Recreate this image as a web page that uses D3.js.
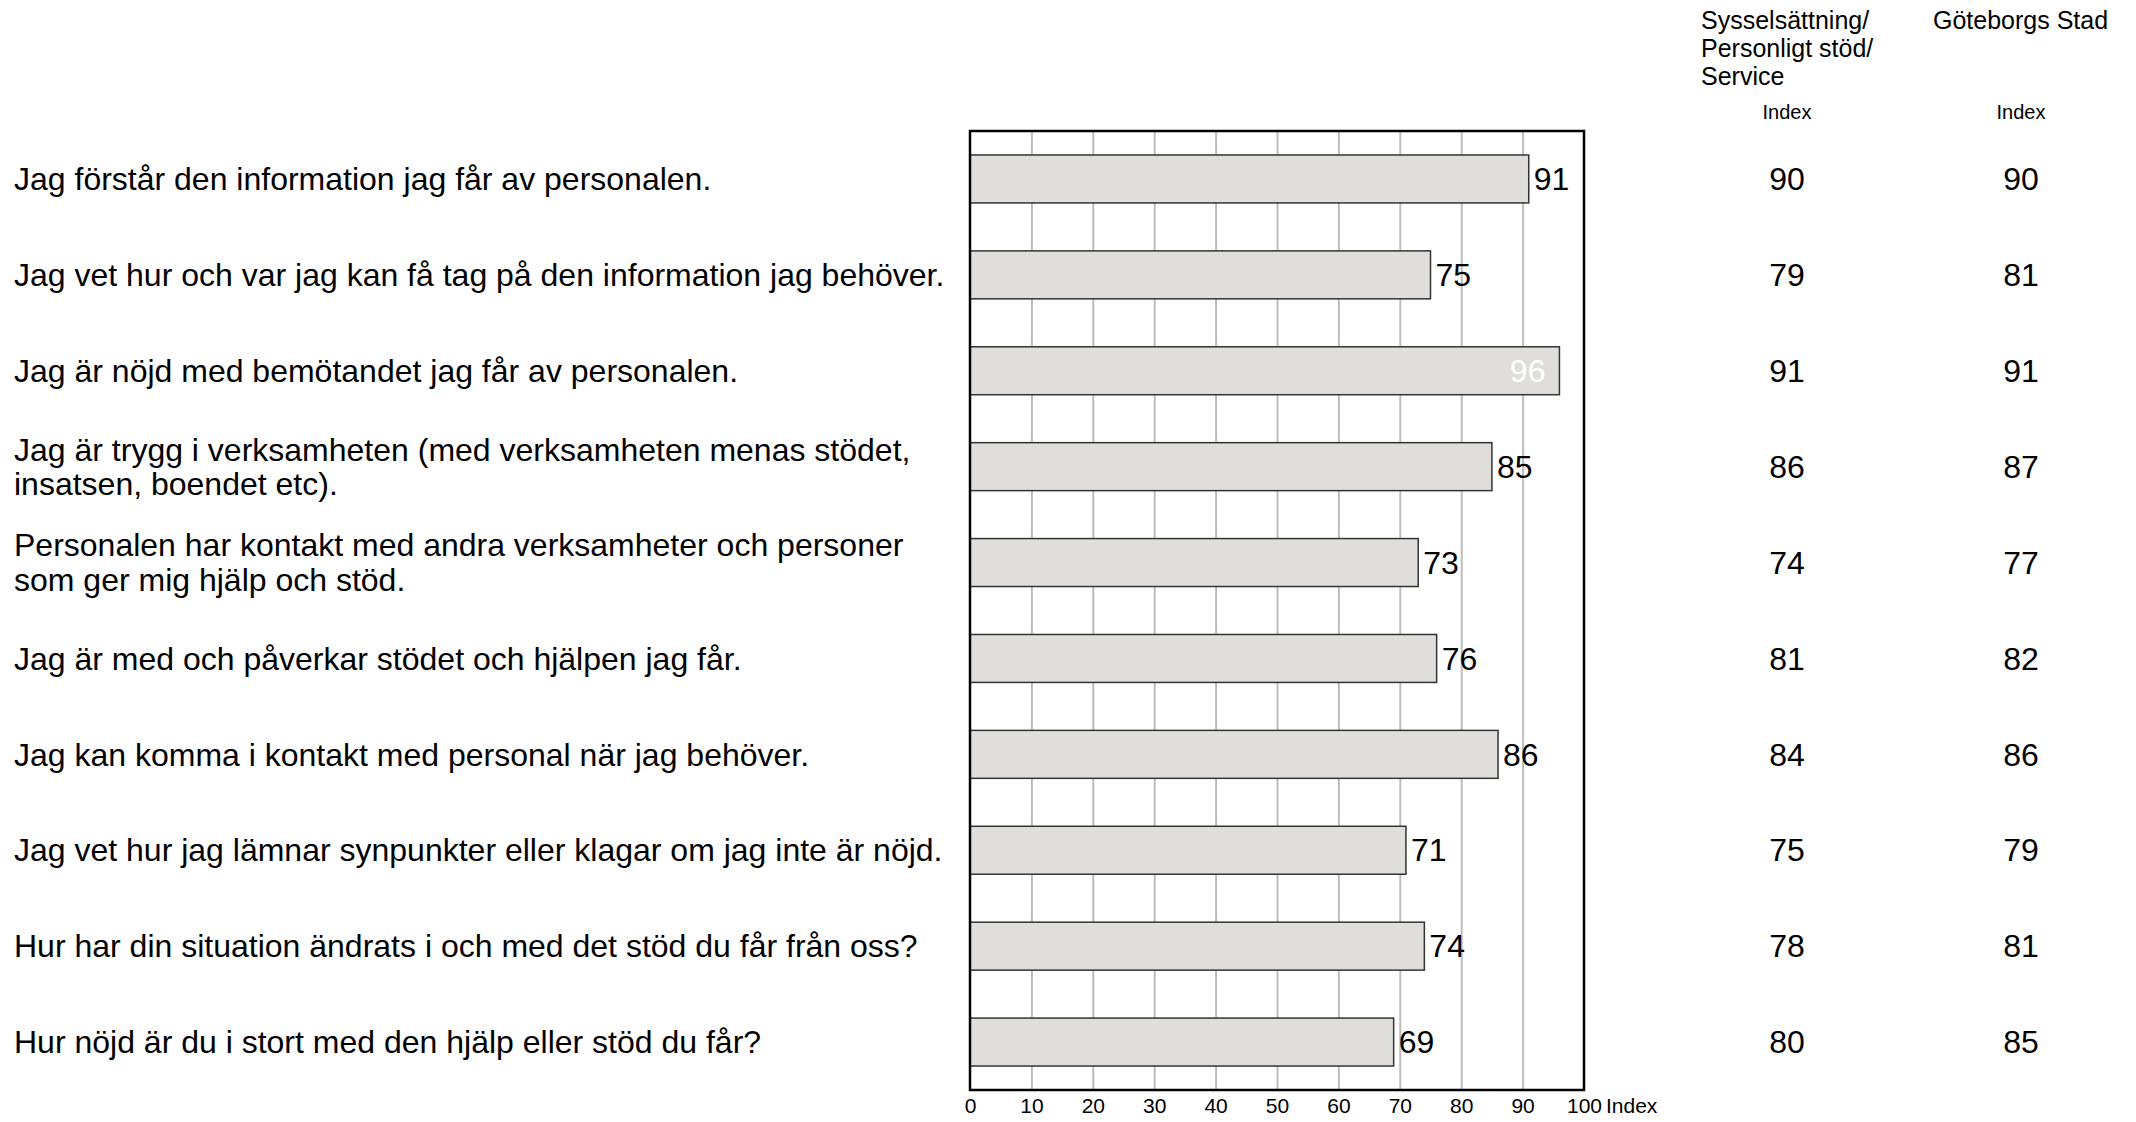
<!DOCTYPE html>
<html>
<head>
<meta charset="utf-8">
<script src="https://cdn.jsdelivr.net/npm/d3@7"></script>
<style>
  body { margin: 0; background: #fff; }
  svg { display: block; font-family: "Liberation Sans", Arial, sans-serif; }
</style>
</head>
<body>
<div class="d3"><svg></svg></div>
<script>
// Questions (line breaks as in the original report)
var categories = [
    "Jag förstår den information jag får av personalen.",
    "Jag vet hur och var jag kan få tag på den information jag behöver.",
    "Jag är nöjd med bemötandet jag får av personalen.",
    "Jag är trygg i verksamheten (med verksamheten menas stödet,\ninsatsen, boendet etc).",
    "Personalen har kontakt med andra verksamheter och personer\nsom ger mig hjälp och stöd.",
    "Jag är med och påverkar stödet och hjälpen jag får.",
    "Jag kan komma i kontakt med personal när jag behöver.",
    "Jag vet hur jag lämnar synpunkter eller klagar om jag inte är nöjd.",
    "Hur har din situation ändrats i och med det stöd du får från oss?",
    "Hur nöjd är du i stort med den hjälp eller stöd du får?"
];
var unitIndex = [91, 75, 96, 85, 73, 76, 86, 71, 74, 69];
var areaIndex = [90, 79, 91, 86, 74, 81, 84, 75, 78, 80];
var cityIndex = [90, 81, 91, 87, 77, 82, 86, 79, 81, 85];
var xTicks = [0, 10, 20, 30, 40, 50, 60, 70, 80, 90, 100];
var colHeaders = [["Sysselsättning/", "Personligt stöd/", "Service"], ["Göteborgs Stad"]];

var width = 2136, height = 1122;
var margin = { left: 970, top: 131, right: 552, bottom: 32 };
var plotW = width - margin.left - margin.right;
var plotH = height - margin.top - margin.bottom;

var svg = d3.select("svg")
    .attr("width", width)
    .attr("height", height);

var x = d3.scaleLinear().domain([0, 100]).range([0, plotW]);
var y = d3.scaleBand()
    .domain(d3.range(categories.length))
    .range([0, plotH])
    .paddingInner(0.5)
    .paddingOuter(0.25);

var g = svg.append("g")
    .attr("transform", "translate(" + margin.left + "," + margin.top + ")");

// vertical grid
g.append("g")
    .attr("class", "grid")
    .attr("transform", "translate(0," + plotH + ")")
    .call(d3.axisBottom(x).tickValues(xTicks.slice(1, -1)).tickSize(-plotH).tickFormat(""))
    .call(function (s) {
        s.select(".domain").remove();
        s.selectAll("line").attr("stroke", "#bdbdbd").attr("stroke-width", 2);
    });

// bars
g.selectAll(".bar")
    .data(unitIndex)
    .enter().append("rect")
    .attr("class", "bar")
    .attr("x", x(0))
    .attr("y", function (d, i) { return y(i); })
    .attr("width", function (d) { return x(d); })
    .attr("height", y.bandwidth())
    .attr("fill", "#dfdeda")
    .attr("stroke", "#333")
    .attr("stroke-width", 1.5);

// value labels (inside the bar when it would hit the frame)
g.selectAll(".val")
    .data(unitIndex)
    .enter().append("text")
    .attr("class", "val")
    .attr("x", function (d) { return d > 93 ? x(d) - 14 : x(d) + 5; })
    .attr("y", function (d, i) { return y(i) + y.bandwidth() / 2; })
    .attr("dy", "0.35em")
    .attr("text-anchor", function (d) { return d > 93 ? "end" : "start"; })
    .attr("fill", function (d) { return d > 93 ? "#fff" : "#000"; })
    .style("font-size", "32px")
    .text(function (d) { return d; });

// frame
g.append("rect")
    .attr("width", plotW)
    .attr("height", plotH)
    .attr("fill", "none")
    .attr("stroke", "#000")
    .attr("stroke-width", 2.5);

// x axis labels
g.append("g")
    .attr("transform", "translate(0," + plotH + ")")
    .call(d3.axisBottom(x).tickValues(xTicks).tickSize(0).tickPadding(8))
    .call(function (s) {
        s.select(".domain").remove();
        s.selectAll("text").style("font-size", "21px").attr("fill", "#000")
            .attr("font-family", null);
    });
g.append("text")
    .attr("x", x(100) + 22)
    .attr("y", plotH + 8)
    .attr("dy", "0.71em")
    .style("font-size", "21px")
    .text("Index");

// category labels
var labels = svg.append("g").selectAll("text")
    .data(categories)
    .enter().append("text")
    .attr("x", 14)
    .attr("y", function (d, i) { return margin.top + y(i) + y.bandwidth() / 2; })
    .style("font-size", "32px");
labels.each(function (d) {
    var lines = d.split("\n");
    var t = d3.select(this);
    lines.forEach(function (l, k) {
        t.append("tspan")
            .attr("x", 14)
            .attr("dy", k === 0 ? (0.35 - (lines.length - 1) * 0.54) + "em" : "1.08em")
            .text(l);
    });
});

// comparison columns
var colX = [1787, 2021];
[areaIndex, cityIndex].forEach(function (vals, c) {
    svg.append("g").selectAll("text")
        .data(vals)
        .enter().append("text")
        .attr("x", colX[c])
        .attr("y", function (d, i) { return margin.top + y(i) + y.bandwidth() / 2; })
        .attr("dy", "0.35em")
        .attr("text-anchor", "middle")
        .style("font-size", "32px")
        .text(function (d) { return d; });

    svg.append("text")
        .attr("x", colX[c])
        .attr("y", 112)
        .attr("dy", "0.35em")
        .attr("text-anchor", "middle")
        .style("font-size", "20px")
        .text("Index");
});

// column headers
var hdrX = [1701, 1933];
colHeaders.forEach(function (lines, c) {
    var t = svg.append("text").attr("x", hdrX[c]).attr("y", 20).attr("dy", "0.35em")
        .style("font-size", "25px");
    lines.forEach(function (l, k) {
        t.append("tspan").attr("x", hdrX[c]).attr("dy", k === 0 ? "0.35em" : "1.12em").text(l);
    });
});
</script>
</body>
</html>
